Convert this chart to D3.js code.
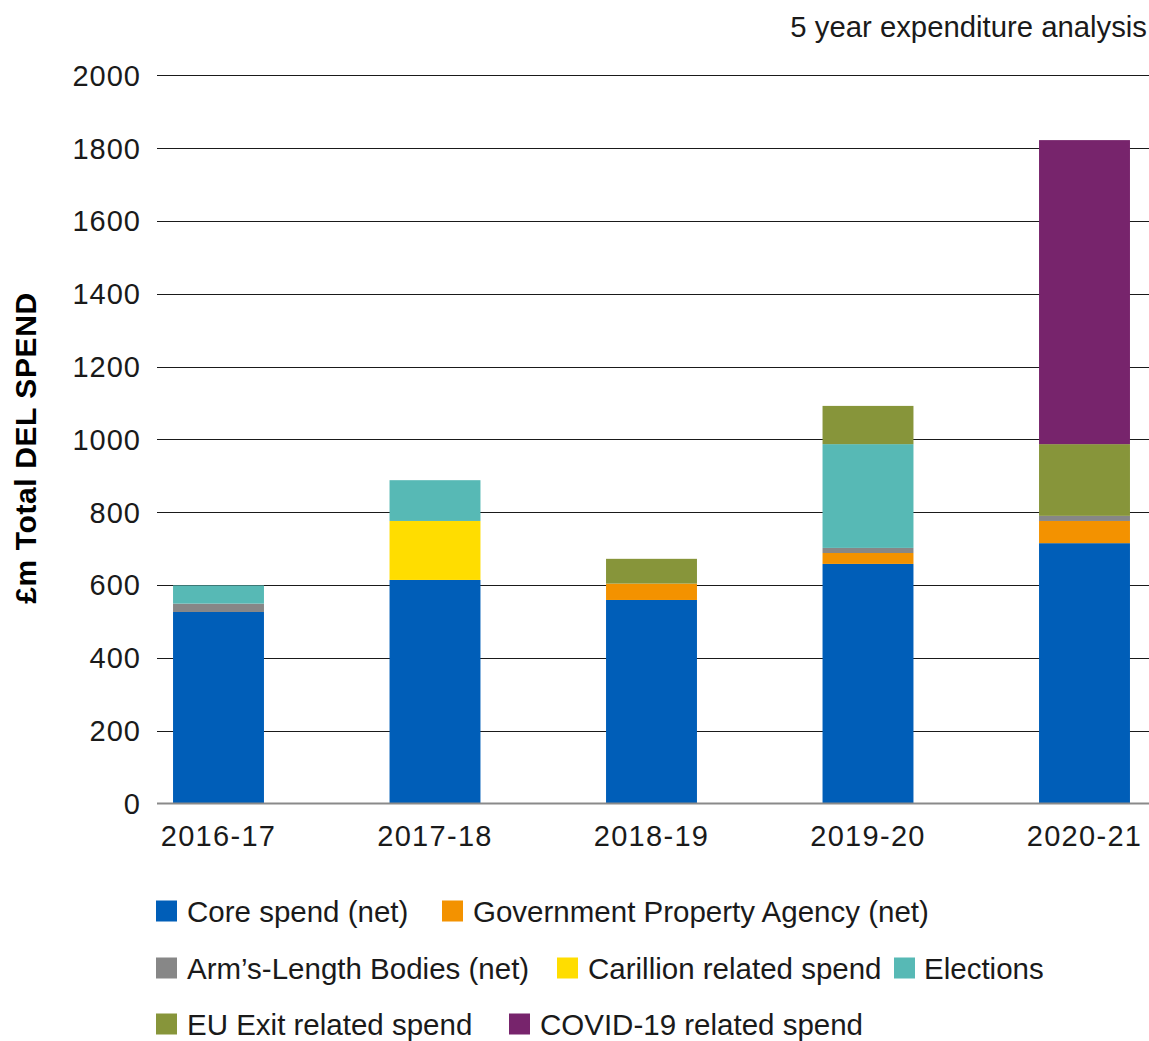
<!DOCTYPE html>
<html>
<head>
<meta charset="utf-8">
<script src="https://cdn.jsdelivr.net/npm/d3@7"></script>
<style>
  html, body { margin: 0; padding: 0; background: #fff; }
  svg { display: block; font-family: "Liberation Sans", Arial, Helvetica, sans-serif; }
</style>
</head>
<body>
<svg id="chart" width="1149" height="1041"></svg>
<script>
const years = ["2016-17", "2017-18", "2018-19", "2019-20", "2020-21"];
const seriesNames = [
  "Core spend (net)",
  "Government Property Agency (net)",
  "Arm’s-Length Bodies (net)",
  "Carillion related spend",
  "Elections",
  "EU Exit related spend",
  "COVID-19 related spend"
];
const coreSpend   = [526, 614, 559, 658, 715];
const gpaSpend    = [0,   0,   45,  30,  61];
const albSpend    = [23,  0,   0,   14,  14];
const carillion   = [0,   162, 0,   0,   0];
const elections   = [50,  112, 0,   285, 0];
const euExit      = [0,   0,   68,  105, 197];
const covid       = [0,   0,   0,   0,   835];
const yTicks = [0, 200, 400, 600, 800, 1000, 1200, 1400, 1600, 1800, 2000];
const colors = ["#005EB8", "#F39200", "#878787", "#FFDD00", "#57B9B5", "#87953A", "#77246C"];
const title = "5 year expenditure analysis";
const yLabel = "£m Total DEL SPEND";

const seriesValues = [coreSpend, gpaSpend, albSpend, carillion, elections, euExit, covid];
const table = years.map((y, i) => {
  const row = { year: y };
  seriesNames.forEach((s, j) => row[s] = seriesValues[j][i]);
  return row;
});

const svg = d3.select("#chart");
const plotLeft = 157, plotRight = 1149;
const y = d3.scaleLinear().domain([0, 2000]).range([803.5, 75.3]);
const x = d3.scaleBand().domain(years).range([110.25, 1192.75]).paddingInner(0.58).paddingOuter(0.29);

// gridlines
svg.append("g").selectAll("line").data(yTicks.filter(d => d > 0)).join("line")
  .attr("x1", plotLeft).attr("x2", plotRight)
  .attr("y1", d => Math.round(y(d)) + 0.5).attr("y2", d => Math.round(y(d)) + 0.5)
  .attr("stroke", "#1a1a1a").attr("stroke-width", 1.2);

// y tick labels
svg.append("g").selectAll("text").data(yTicks).join("text")
  .attr("x", 141).attr("y", d => y(d))
  .attr("dy", "0.36em")
  .attr("text-anchor", "end")
  .attr("font-size", 29)
  .attr("letter-spacing", 1)
  .attr("fill", "#1a1a1a")
  .text(d => d);

// bars
const stack = d3.stack().keys(seriesNames);
const stacked = stack(table);
svg.append("g").selectAll("g").data(stacked).join("g")
  .attr("fill", (d, i) => colors[i])
  .selectAll("rect").data(d => d).join("rect")
  .attr("x", d => x(d.data.year))
  .attr("width", x.bandwidth())
  .attr("y", d => y(d[1]))
  .attr("height", d => Math.max(0, y(d[0]) - y(d[1])));

// zero axis line
svg.append("line")
  .attr("x1", plotLeft).attr("x2", plotRight)
  .attr("y1", y(0)).attr("y2", y(0))
  .attr("stroke", "#8a8a8a").attr("stroke-width", 2);

// x labels
svg.append("g").selectAll("text").data(years).join("text")
  .attr("x", d => x(d) + x.bandwidth() / 2)
  .attr("y", 846)
  .attr("text-anchor", "middle")
  .attr("font-size", 29)
  .attr("letter-spacing", 1.3)
  .attr("fill", "#1a1a1a")
  .text(d => d);

// title
svg.append("text")
  .attr("x", 1147).attr("y", 37)
  .attr("text-anchor", "end")
  .attr("font-size", 29.3)
  .attr("fill", "#1a1a1a")
  .text(title);

// y label
svg.append("text")
  .attr("transform", "translate(36,448) rotate(-90)")
  .attr("text-anchor", "middle")
  .attr("font-size", 30)
  .attr("letter-spacing", 0.6)
  .attr("font-weight", "bold")
  .attr("fill", "#000")
  .text(yLabel);

// legend
const legendPos = [
  { sx: 156, tx: 187, cy: 911 },
  { sx: 442, tx: 473, cy: 911 },
  { sx: 156, tx: 187, cy: 968 },
  { sx: 557, tx: 588, cy: 968 },
  { sx: 894, tx: 924, cy: 968 },
  { sx: 156, tx: 187, cy: 1024 },
  { sx: 509, tx: 540, cy: 1024 }
];
const lg = svg.append("g");
seriesNames.forEach((s, i) => {
  const p = legendPos[i];
  lg.append("rect").attr("x", p.sx).attr("y", p.cy - 10.5).attr("width", 21).attr("height", 21).attr("fill", colors[i]);
  lg.append("text").attr("x", p.tx).attr("y", p.cy).attr("dy", "0.36em")
    .attr("font-size", 29.5).attr("fill", "#1a1a1a").text(s);
});
</script>
</body>
</html>
